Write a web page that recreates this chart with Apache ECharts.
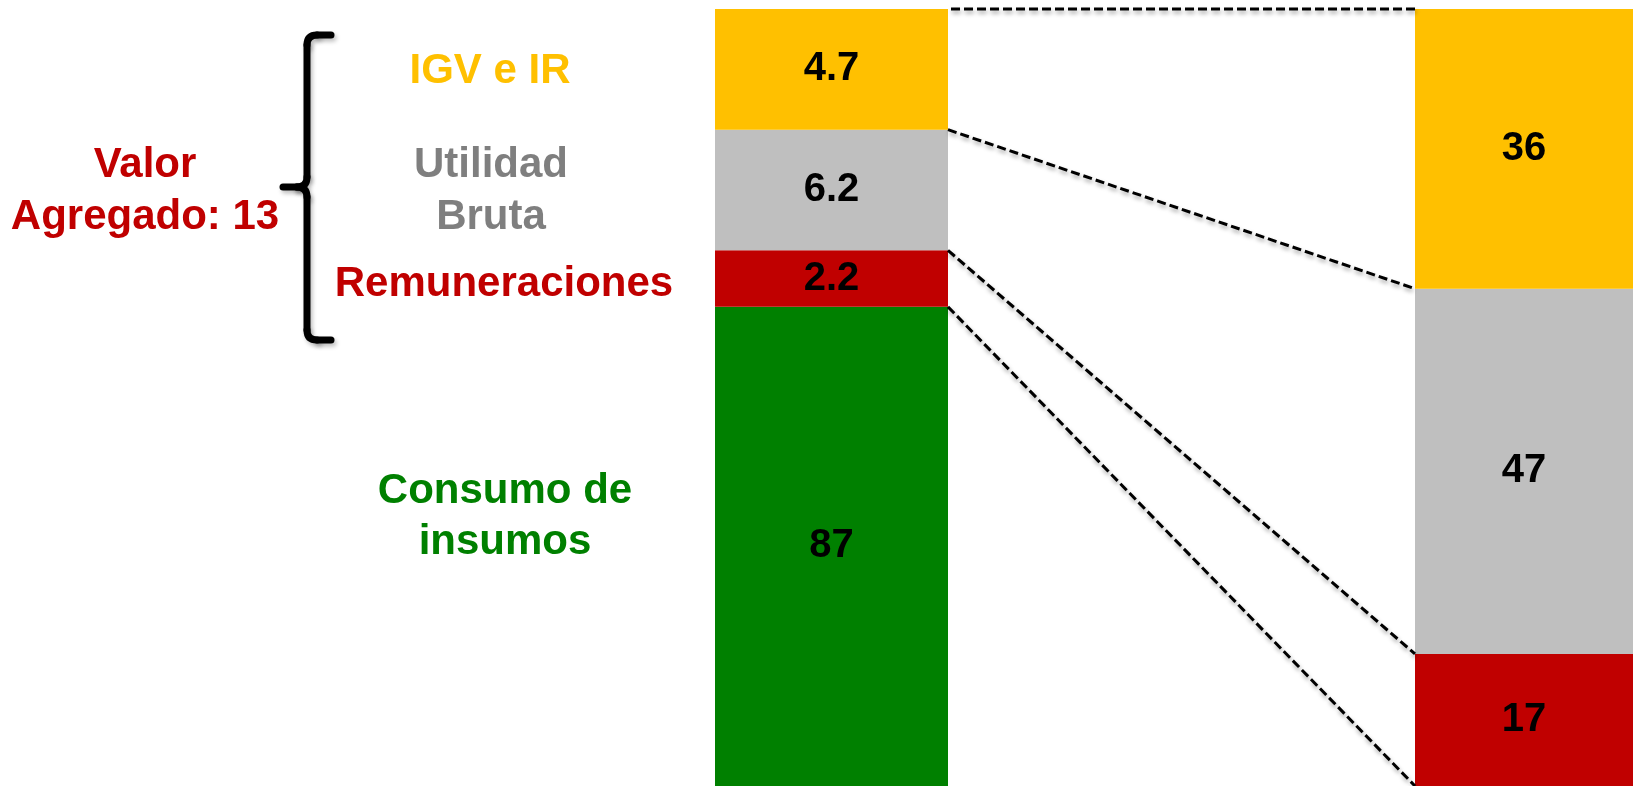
<!DOCTYPE html>
<html>
<head>
<meta charset="utf-8">
<script src="https://cdn.jsdelivr.net/npm/echarts@6/dist/echarts.min.js"></script>
<style>
  html, body { margin: 0; padding: 0; background: #fff; }
  #main { width: 1633px; height: 786px; }
</style>
</head>
<body>
<div id="main"></div>
<script>
// segments, stacked bottom -> top
const segments = ["Consumo de insumos", "Remuneraciones", "Utilidad Bruta", "IGV e IR"];
// left bar: composition of the sale (total ~100)
const saleValues = [87, 2.2, 6.2, 4.7];
// right bar: share of value added (%), no consumo here
const addedValues = [null, 17, 47, 36];
const addedTotalLabel = "Valor\nAgregado: 13";

const colors = ["#008000", "#C00000", "#BFBFBF", "#FFC000"];
const textColors = ["#008000", "#C00000", "#7F7F7F", "#FFC000"];
const FONT = "'Liberation Sans', Arial, sans-serif";

// layout
const leftBar = { left: 715, width: 233 };
const rightBar = { left: 1415 };
const gridTop = 9;

function sumArray(array) {
	return array.reduce((prev, cur) => prev + (cur || 0), 0);
}

const saleTotal = sumArray(saleValues);
const addedTotal = sumArray(addedValues);

const chart = echarts.init(document.getElementById("main"), null, { renderer: "canvas" });

const labelStyle = {
	show: true,
	position: "inside",
	color: "#000",
	fontFamily: FONT,
	fontWeight: "bold",
	fontSize: 40,
};

const series = [];
segments.forEach((name, i) => {
	series.push({
		name: name,
		type: "bar",
		xAxisIndex: 0,
		yAxisIndex: 0,
		stack: "sale",
		barCategoryGap: "0%",
		data: [saleValues[i]],
		itemStyle: { color: colors[i] },
		label: labelStyle,
	});
	if (addedValues[i] != null) {
		series.push({
			name: name + " (VA)",
			type: "bar",
			xAxisIndex: 1,
			yAxisIndex: 1,
			stack: "added",
			barCategoryGap: "0%",
			data: [addedValues[i]],
			itemStyle: { color: colors[i] },
			label: labelStyle,
		});
	}
});

const option = {
	animation: false,
	backgroundColor: "#fff",
	grid: [
		{ left: leftBar.left, width: leftBar.width, top: gridTop, bottom: 0 },
		{ left: rightBar.left, right: 0, top: gridTop, bottom: 0 },
	],
	xAxis: [
		{ type: "category", gridIndex: 0, data: [""], show: false },
		{ type: "category", gridIndex: 1, data: [""], show: false },
	],
	yAxis: [
		{
			type: "value",
			gridIndex: 0,
			min: 0,
			max: saleTotal,
			show: false,
			splitLine: { show: false },
			// the original bar is schematic, not to scale: shorten consumo a lot
			// and utilidad a little
			breaks: [
				{ start: 10, end: 78.34, gap: 0 },
				{ start: 91, end: 92.5, gap: 0 },
			],
			breakArea: { show: false, expandOnClick: false },
		},
		{
			type: "value",
			gridIndex: 1,
			min: 0,
			max: addedTotal,
			show: false,
			splitLine: { show: false },
		},
	],
	series: series,
};

chart.setOption(option);

// dashed connectors between matching boundaries of both bars
function yLeft(v) {
	return chart.convertToPixel({ gridIndex: 0 }, [0, v])[1];
}
function yRight(v) {
	return chart.convertToPixel({ gridIndex: 1 }, [0, v])[1];
}

const xA = leftBar.left + leftBar.width;
const xB = rightBar.left;
const dashStyle = {
	stroke: "#000",
	lineWidth: 3,
	lineDash: [9, 4],
	shadowBlur: 4,
	shadowColor: "rgba(0,0,0,0.35)",
	shadowOffsetX: 1,
	shadowOffsetY: 3,
};

const connectors = [];
let cumSale = saleValues[0];
let cumAdded = 0;
connectors.push([cumSale, cumAdded]);
for (let i = 1; i < segments.length; i++) {
	cumSale += saleValues[i];
	cumAdded += addedValues[i];
	connectors.push([cumSale, cumAdded]);
}

const graphics = connectors.map((c, i) => ({
	type: "line",
	shape: {
		x1: xA + (i === connectors.length - 1 ? 3 : 0),
		y1: yLeft(c[0]),
		x2: xB,
		y2: yRight(c[1]),
	},
	style: dashStyle,
	z: 10,
}));

function textItem(text, x, y, color, lineHeight) {
	return {
		type: "text",
		x: x,
		y: y,
		style: {
			text: text,
			fill: color,
			font: "bold 42px " + FONT,
			align: "center",
			verticalAlign: "middle",
			lineHeight: lineHeight || 52,
		},
	};
}

graphics.push(textItem("IGV e IR", 490, 71, textColors[3]));
graphics.push(textItem("Utilidad\nBruta", 491, 191, textColors[2], 52));
graphics.push(textItem("Remuneraciones", 504, 284, textColors[1]));
graphics.push(textItem("Consumo de\ninsumos", 505, 517, textColors[0], 51));
graphics.push(textItem(addedTotalLabel, 145, 191, "#C00000", 52));

// curly brace for valor agregado, built from lines and quadratic curves
const braceStyle = {
	fill: null,
	stroke: "#000",
	lineWidth: 7,
	lineCap: "round",
	shadowBlur: 4,
	shadowColor: "rgba(0,0,0,0.25)",
	shadowOffsetX: 2,
	shadowOffsetY: 3,
};
function braceLine(x1, y1, x2, y2) {
	return { type: "line", shape: { x1, y1, x2, y2 }, style: braceStyle };
}
function braceCurve(x1, y1, cpx1, cpy1, x2, y2) {
	return { type: "bezierCurve", shape: { x1, y1, cpx1, cpy1, x2, y2 }, style: braceStyle };
}
graphics.push({
	type: "group",
	children: [
		braceLine(331, 35, 317, 35),
		braceCurve(317, 35, 307, 35, 307, 45),
		braceLine(307, 45, 307, 177),
		braceCurve(307, 177, 307, 187, 297, 187),
		braceLine(297, 187, 283, 187),
		braceCurve(297, 187, 307, 187, 307, 197),
		braceLine(307, 197, 307, 330),
		braceCurve(307, 330, 307, 340, 317, 340),
		braceLine(317, 340, 331, 340),
	],
});

chart.setOption({ graphic: graphics });
</script>
</body>
</html>
